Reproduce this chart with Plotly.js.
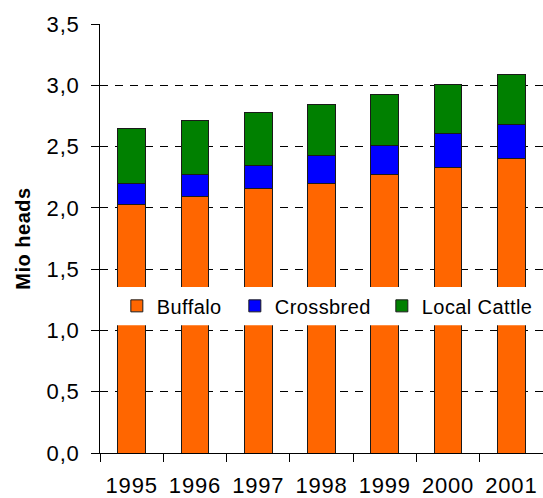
<!DOCTYPE html>
<html>
<head>
<meta charset="utf-8">
<script src="https://cdn.plot.ly/plotly-3.0.1.min.js"></script>
<style>
html,body{margin:0;padding:0;background:#fff;}
#chart{width:543px;height:498px;}
#chart .xtick text, #chart .ytick text{letter-spacing:0.8px;}
#chart .legendtext{letter-spacing:0.4px;}
#chart .ytitle{letter-spacing:0.5px;}
</style>
</head>
<body>
<div id="chart"></div>
<script>
var years = ['1995', '1996', '1997', '1998', '1999', '2000', '2001'];
var buffalo = [2.03, 2.09, 2.16, 2.20, 2.27, 2.33, 2.40];
var crossbred = [0.17, 0.18, 0.185, 0.23, 0.24, 0.28, 0.28];
var localCattle = [0.45, 0.445, 0.435, 0.415, 0.415, 0.40, 0.405];
var yTicks = [0, 0.5, 1, 1.5, 2, 2.5, 3, 3.5];

var FONT = 'Liberation Sans, Arial, sans-serif';
function bar(name, vals, color, lw) {
  return {
    type: 'bar', name: name, x: years, y: vals,
    marker: {color: color, line: {color: '#1a1a1a', width: 1}},
    legendwidth: lw,
    hoverinfo: 'skip'
  };
}
var data = [
  bar('Buffalo', buffalo, '#FF6600', 73),
  bar('Crossbred', crossbred, '#0000FF', 102),
  bar('Local Cattle', localCattle, '#008000', 110)
];
var layout = {
  width: 543, height: 498,
  margin: {l: 100, r: 0, t: 24, b: 45},
  paper_bgcolor: '#fff', plot_bgcolor: '#fff',
  barmode: 'stack', bargap: 0.56,
  separators: ',.',
  font: {family: FONT, color: '#000'},
  showlegend: true,
  legend: {
    orientation: 'h', traceorder: 'normal',
    x: 0.038, xanchor: 'left', y: 0.343, yanchor: 'middle',
    bgcolor: 'rgba(0,0,0,0)', borderwidth: 0,
    font: {family: FONT, size: 20, color: '#000'}
  },
  shapes: [{
    type: 'rect', xref: 'paper', yref: 'paper', layer: 'above',
    x0: 0.011, x1: 0.982, y0: 0.298, y1: 0.387,
    fillcolor: '#fff', line: {width: 0}
  }],
  xaxis: {
    type: 'category',
    showgrid: false, zeroline: false,
    showline: true, linecolor: '#000', linewidth: 1,
    ticks: 'outside', tickson: 'boundaries', ticklen: 8, tickcolor: '#000', tickwidth: 1,
    ticklabelstandoff: 13,
    tickfont: {family: FONT, size: 22, color: '#000'}
  },
  yaxis: {
    range: [0, 3.5],
    tickmode: 'array', tickvals: yTicks, tickformat: '.1f',
    showgrid: true, gridcolor: '#000', gridwidth: 1, griddash: '8px,7px',
    zeroline: false,
    showline: true, linecolor: '#000', linewidth: 1,
    ticks: 'outside', ticklen: 8, tickcolor: '#000', tickwidth: 1,
    ticklabelstandoff: 7,
    tickfont: {family: FONT, size: 22, color: '#000'},
    title: {text: 'Mio heads', standoff: 13, font: {family: FONT, size: 20, color: '#000', weight: 'bold'}}
  }
};
Plotly.newPlot('chart', data, layout, {staticPlot: true, displayModeBar: false});
</script>
</body>
</html>
